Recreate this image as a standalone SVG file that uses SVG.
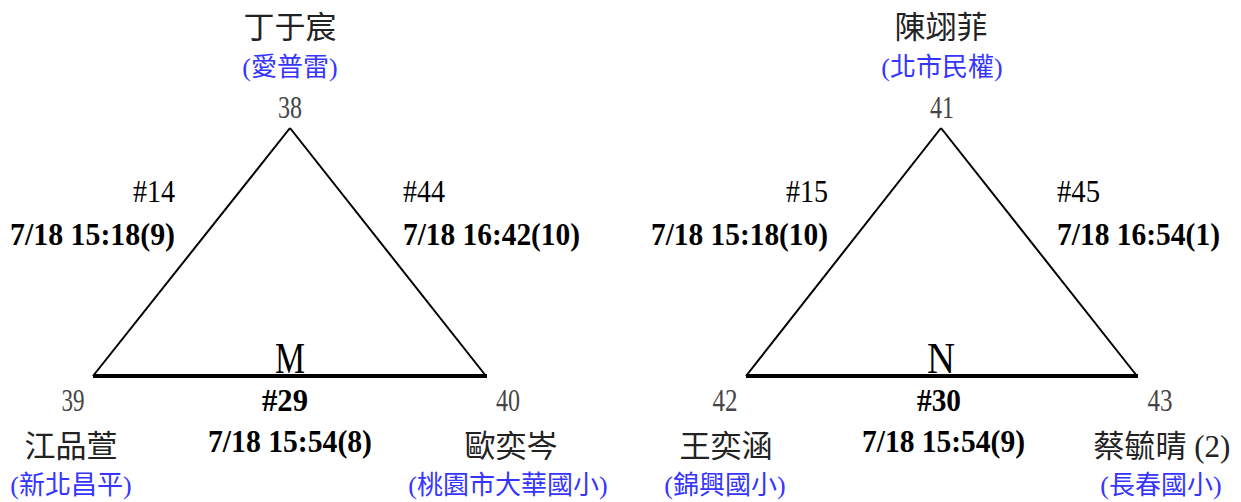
<svg xmlns="http://www.w3.org/2000/svg" width="1241" height="502" viewBox="0 0 1241 502">
<style>
text{font-family:"Liberation Serif","Noto Sans CJK TC",serif;}
.name{font-size:31px;fill:#222;text-anchor:middle;}
.school{font-size:26px;fill:#3535ff;text-anchor:middle;}
.num{font-size:31px;fill:#444;text-anchor:middle;}
.hash{font-size:32px;fill:#000;}
.time{font-size:32px;font-weight:bold;fill:#000;}
.bhash{font-size:32px;font-weight:bold;fill:#000;text-anchor:middle;}
.grp{font-size:44px;fill:#000;text-anchor:middle;}
.side{fill:none;stroke:#000;stroke-width:2;}
.base{fill:none;stroke:#000;stroke-width:4;}
</style>
<rect width="1241" height="502" fill="#fff"/>
<g id="connectors">
<line class="side" x1="290" y1="128" x2="93" y2="376"/>
<line class="side" x1="290" y1="128" x2="486" y2="376"/>
<line class="base" x1="93" y1="376" x2="487" y2="376"/>
<line class="side" x1="941" y1="128" x2="746" y2="376"/>
<line class="side" x1="941" y1="128" x2="1137" y2="376"/>
<line class="base" x1="746" y1="376" x2="1138" y2="376"/>
</g>
<g id="node38">
<text class="name" x="290" y="38">丁于宸</text>
<text class="school" x="290" y="76">(愛普雷)</text>
<text class="num" x="290" y="118" textLength="24" lengthAdjust="spacingAndGlyphs">38</text>
</g>
<g id="node39">
<text class="num" x="73" y="411" textLength="23" lengthAdjust="spacingAndGlyphs">39</text>
<text class="name" x="71" y="457">江品萱</text>
<text class="school" x="71" y="494">(新北昌平)</text>
</g>
<g id="node40">
<text class="num" x="508" y="411" textLength="24" lengthAdjust="spacingAndGlyphs">40</text>
<text class="name" x="511" y="457">歐奕岑</text>
<text class="school" x="508" y="494">(桃園市大華國小)</text>
</g>
<g id="node41">
<text class="name" x="941" y="38">陳翊菲</text>
<text class="school" x="942" y="76">(北市民權)</text>
<text class="num" x="942" y="118" textLength="24" lengthAdjust="spacingAndGlyphs">41</text>
</g>
<g id="node42">
<text class="num" x="725" y="411" textLength="25" lengthAdjust="spacingAndGlyphs">42</text>
<text class="name" x="726" y="457">王奕涵</text>
<text class="school" x="725" y="494">(錦興國小)</text>
</g>
<g id="node43">
<text class="num" x="1160" y="411" textLength="25" lengthAdjust="spacingAndGlyphs">43</text>
<text class="name" x="1162" y="457">蔡毓晴 (2)</text>
<text class="school" x="1161" y="494">(長春國小)</text>
</g>
<g id="groupM">
<text class="grp" x="290" y="373" textLength="30" lengthAdjust="spacingAndGlyphs">M</text>
</g>
<g id="groupN">
<text class="grp" x="941" y="373" textLength="28" lengthAdjust="spacingAndGlyphs">N</text>
</g>
<g id="labels">
<text class="hash" x="133" y="202" textLength="42" lengthAdjust="spacingAndGlyphs">#14</text>
<text class="time" x="10" y="245" textLength="165" lengthAdjust="spacingAndGlyphs">7/18 15:18(9)</text>
<text class="hash" x="403" y="202" textLength="42" lengthAdjust="spacingAndGlyphs">#44</text>
<text class="time" x="403" y="245" textLength="177" lengthAdjust="spacingAndGlyphs">7/18 16:42(10)</text>
<text class="bhash" x="285" y="411" textLength="46" lengthAdjust="spacingAndGlyphs">#29</text>
<text class="time" x="208" y="452" textLength="164" lengthAdjust="spacingAndGlyphs">7/18 15:54(8)</text>
<text class="hash" x="786" y="202" textLength="42" lengthAdjust="spacingAndGlyphs">#15</text>
<text class="time" x="651" y="245" textLength="177" lengthAdjust="spacingAndGlyphs">7/18 15:18(10)</text>
<text class="hash" x="1057" y="202" textLength="43" lengthAdjust="spacingAndGlyphs">#45</text>
<text class="time" x="1057" y="245" textLength="163" lengthAdjust="spacingAndGlyphs">7/18 16:54(1)</text>
<text class="bhash" x="939" y="411" textLength="44" lengthAdjust="spacingAndGlyphs">#30</text>
<text class="time" x="862" y="452" textLength="163" lengthAdjust="spacingAndGlyphs">7/18 15:54(9)</text>
</g>
</svg>
